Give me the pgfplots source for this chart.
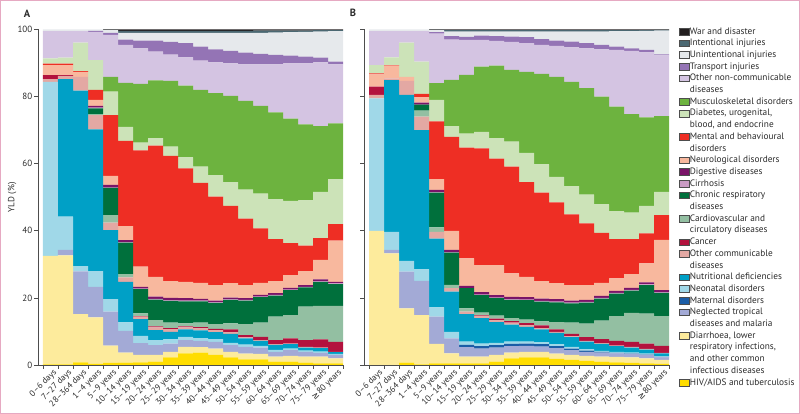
\documentclass[border=0pt]{standalone}
\usepackage{pgfplots}
\pgfplotsset{compat=1.18}
\usepackage{pgfplotstable}
\usepackage{fontspec}
\setmainfont{PT Sans}
\newfontfamily\symf{DejaVu Sans}

\definecolor{cWar}{HTML}{231F20}
\definecolor{cInt}{HTML}{4B6872}
\definecolor{cUni}{HTML}{E6E9EC}
\definecolor{cTra}{HTML}{9474B5}
\definecolor{cONC}{HTML}{D4C4E2}
\definecolor{cMSK}{HTML}{6DB33F}
\definecolor{cDib}{HTML}{CCE3B8}
\definecolor{cMen}{HTML}{EE2E24}
\definecolor{cNeu}{HTML}{F8B89E}
\definecolor{cDig}{HTML}{7A1468}
\definecolor{cCir}{HTML}{C99BC3}
\definecolor{cCR}{HTML}{00703C}
\definecolor{cCar}{HTML}{93BFA2}
\definecolor{cCan}{HTML}{B3123E}
\definecolor{cOC}{HTML}{E3A8A3}
\definecolor{cNut}{HTML}{00A0C6}
\definecolor{cNeo}{HTML}{A0D8E8}
\definecolor{cMat}{HTML}{1B5DA6}
\definecolor{cNTD}{HTML}{A3AAD6}
\definecolor{cDia}{HTML}{FDEB9C}
\definecolor{cHIV}{HTML}{FFDD00}
\definecolor{axgray}{HTML}{4D4D4D}
\definecolor{txtgray}{HTML}{2B2B2B}
\definecolor{framepink}{HTML}{E6A9C2}

% cumulative tops of each layer (%), panel A
\pgfplotstableread{
x HIV DIA NTD MAT NEO NUT OC CAN CAR CR CIR DIG NEU MEN DIB MSK ONC TRA UNI INT WAR
1 0.2 32.5 32.5 32.5 84.4 84.4 85.2 86.4 86.4 86.4 86.4 86.4 89.4 89.8 91.4 91.4 99.5 99.5 100 100 100
2 0.2 32.7 34.3 34.3 44.2 85.2 86.2 86.4 86.4 86.4 86.4 86.4 89.4 89.8 91.6 91.6 99.5 99.5 100 100 100
3 0.8 15.2 27.9 27.9 29.5 81.8 85.9 85.9 85.9 85.9 85.9 85.9 87.4 87.6 96.1 96.1 99.5 99.5 100 100 100
4 0.3 14.2 23.3 23.3 28.0 70.2 74.5 74.5 74.8 76.5 76.7 77.2 79.0 82.0 90.9 90.9 99.3 99.6 100 100 100
5 0.6 5.8 15.9 15.9 19.6 40.2 42.4 42.4 44.7 52.8 52.9 53.7 56.4 74.5 81.5 85.9 98.4 99.0 99.8 99.9 100
6 0.7 3.7 10.2 10.2 12.7 24.8 26.1 26.1 27.1 36.5 36.6 37.2 41.4 66.8 71.0 84.1 95.4 97.0 99.0 99.6 100
7 0.8 3.0 6.5 6.5 8.7 13.7 14.4 14.6 15.4 22.6 22.8 23.3 29.3 64.0 66.3 83.8 94.4 96.7 99.0 99.6 100
8 1.0 3.0 5.9 5.9 7.4 10.4 11.2 11.5 13.4 19.5 19.7 20.4 26.3 65.4 67.6 84.8 93.4 96.7 99.0 99.6 100
9 2.3 3.9 6.4 6.4 7.6 9.9 10.7 11.0 12.6 19.1 19.3 20.0 25.0 62.3 65.1 84.7 92.5 96.3 99.0 99.6 100
10 3.5 5.4 7.4 7.4 8.4 10.6 11.2 11.5 12.4 19.0 19.2 19.9 24.8 58.6 61.9 83.3 91.7 95.9 99.0 99.6 100
11 3.7 5.3 7.2 7.2 8.0 10.3 10.9 11.3 12.6 19.0 19.2 19.7 24.5 54.3 59.1 82.0 90.7 94.9 99.0 99.6 100
12 3.0 4.9 6.9 6.9 7.7 9.8 10.4 10.8 12.2 18.5 18.7 19.2 23.8 50.2 56.6 81.0 90.2 94.1 99.0 99.6 100
13 2.3 3.9 5.9 5.9 6.6 9.3 9.8 10.6 12.4 19.4 19.6 20.1 24.4 47.4 54.5 80.2 89.9 93.6 99.0 99.6 100
14 1.7 3.4 5.4 5.4 6.1 7.9 8.2 8.9 12.2 19.2 19.4 19.9 23.8 43.6 52.3 78.7 89.6 93.1 99.0 99.6 100
15 1.7 3.3 5.2 5.2 5.7 7.2 7.4 8.4 12.6 20.2 20.4 20.9 24.5 40.7 51.1 77.2 89.6 92.7 99.0 99.7 100
16 1.0 2.5 3.9 3.9 4.5 6.0 6.2 7.4 14.4 20.7 20.9 21.4 25.0 37.5 49.4 75.3 89.6 92.4 99.1 99.7 100
17 1.0 2.7 4.4 4.4 4.9 6.2 6.4 7.9 14.9 22.3 22.5 23.0 26.8 36.3 48.9 73.4 89.9 92.2 99.2 99.7 100
18 0.7 2.5 3.9 3.9 4.3 5.2 5.4 7.4 17.4 23.1 23.3 23.8 28.0 35.6 49.1 71.7 89.9 91.9 99.3 99.7 100
19 0.5 2.5 3.6 3.6 4.0 5.0 5.2 7.6 17.6 24.8 25.0 25.5 31.3 37.8 51.6 71.2 90.2 91.6 99.4 99.8 100
20 0.5 2.0 3.0 3.0 3.3 3.8 3.9 6.9 17.6 24.1 24.3 24.8 37.1 42.0 55.4 72.0 89.6 90.4 99.5 99.8 100
}\tabA

% cumulative tops of each layer (%), panel B
\pgfplotstableread{
x HIV DIA NTD MAT NEO NUT OC CAN CAR CR CIR DIG NEU MEN DIB MSK ONC TRA UNI INT WAR
1 0.0 40.0 40.0 40.0 79.5 79.5 80.5 83.0 83.0 83.0 83.0 83.0 86.6 86.9 89.4 89.4 99.5 99.5 100 100 100
2 0.0 33.3 34.3 34.3 39.7 84.9 85.4 85.4 85.4 85.4 85.4 85.4 89.2 89.4 91.7 91.7 99.5 99.5 100 100 100
3 0.7 16.9 27.8 27.8 31.0 80.5 84.7 84.7 84.7 84.7 84.7 84.7 85.9 85.9 96.1 96.1 99.5 99.5 100 100 100
4 0.2 14.9 25.1 25.1 28.5 70.0 74.0 74.0 75.8 77.6 77.6 78.2 79.8 80.8 90.4 90.4 99.5 99.5 100 100 100
5 0.5 6.3 14.4 14.4 17.2 37.7 39.7 39.7 41.0 51.4 51.5 52.2 55.4 72.6 79.0 84.0 98.8 99.2 99.8 99.9 100
6 0.5 3.5 7.9 7.9 9.9 21.9 22.9 22.9 23.9 33.5 33.6 34.3 40.0 68.0 71.2 85.0 97.0 98.0 99.4 99.8 100
7 0.5 2.5 5.3 6.0 7.0 15.2 15.9 15.9 16.9 22.9 22.9 23.6 31.8 64.8 69.0 86.5 96.9 97.8 99.4 99.8 100
8 0.5 2.5 4.9 5.6 6.4 14.0 14.6 14.8 15.6 20.8 21.0 21.7 29.8 64.6 69.5 88.9 96.9 98.2 99.4 99.8 100
9 1.0 3.0 5.2 5.9 6.6 12.8 13.4 13.8 14.7 19.9 20.1 20.8 29.8 61.5 67.6 89.2 96.6 98.0 99.4 99.8 100
10 2.0 3.7 5.6 6.3 7.0 12.0 12.6 13.1 14.0 19.4 19.6 20.3 27.3 59.1 66.6 88.0 96.3 97.9 99.4 99.8 100
11 2.3 3.9 5.7 6.4 7.0 11.4 11.9 12.5 13.5 19.3 19.5 20.2 26.3 54.5 63.2 87.4 95.9 97.7 99.4 99.8 100
12 2.3 3.9 5.5 6.2 6.8 10.6 11.0 11.8 13.0 18.9 19.1 19.8 25.0 51.4 59.8 86.8 95.4 97.1 99.4 99.8 100
13 1.8 3.4 5.0 5.6 6.2 9.6 9.9 10.6 12.8 18.7 18.9 19.6 24.4 48.5 56.1 85.9 95.1 96.7 99.4 99.8 100
14 1.5 3.0 4.4 4.9 5.4 8.3 8.5 9.3 12.6 18.4 18.6 19.2 23.8 44.9 53.3 84.4 94.7 96.4 99.4 99.8 100
15 1.2 2.7 3.9 4.3 4.7 7.0 7.2 8.3 12.3 18.6 18.8 19.4 23.8 42.2 50.8 82.5 94.4 95.9 99.4 99.8 100
16 1.0 2.5 3.7 3.9 4.2 6.3 6.5 7.7 13.2 19.8 20.0 20.6 24.5 39.4 47.9 80.0 94.1 95.4 99.4 99.8 100
17 0.8 2.4 3.5 3.6 3.9 5.6 5.8 7.2 14.6 21.3 21.5 22.1 25.8 37.5 45.9 77.0 93.9 94.9 99.5 99.8 100
18 0.6 2.3 3.3 3.4 3.7 5.2 5.4 6.9 15.5 22.2 22.4 23.0 27.1 37.5 45.4 74.8 93.6 94.4 99.5 99.8 100
19 0.5 2.0 3.0 3.1 3.4 4.6 4.8 6.4 15.3 23.8 24.0 24.6 30.3 39.2 47.4 73.8 93.2 93.9 99.6 99.8 100
20 0.3 1.5 2.3 2.4 2.6 3.5 3.6 5.7 14.6 21.5 21.7 22.3 37.3 44.7 51.6 74.2 92.3 92.6 99.7 99.9 100
}\tabB

\newcommand\lay[4]{\addplot[fill=#1, draw=none] table[x=x, y expr=\thisrow{#3}-\thisrow{#2}]{#4};}
\newcommand\layers[1]{%
  \addplot[fill=cHIV, draw=none] table[x=x, y=HIV]{#1};
  \lay{cDia}{HIV}{DIA}{#1}
  \lay{cNTD}{DIA}{NTD}{#1}
  \lay{cMat}{NTD}{MAT}{#1}
  \lay{cNeo}{MAT}{NEO}{#1}
  \lay{cNut}{NEO}{NUT}{#1}
  \lay{cOC}{NUT}{OC}{#1}
  \lay{cCan}{OC}{CAN}{#1}
  \lay{cCar}{CAN}{CAR}{#1}
  \lay{cCR}{CAR}{CR}{#1}
  \lay{cCir}{CR}{CIR}{#1}
  \lay{cDig}{CIR}{DIG}{#1}
  \lay{cNeu}{DIG}{NEU}{#1}
  \lay{cMen}{NEU}{MEN}{#1}
  \lay{cDib}{MEN}{DIB}{#1}
  \lay{cMSK}{DIB}{MSK}{#1}
  \lay{cONC}{MSK}{ONC}{#1}
  \lay{cTra}{ONC}{TRA}{#1}
  \lay{cUni}{TRA}{UNI}{#1}
  \lay{cInt}{UNI}{INT}{#1}
  \lay{cWar}{INT}{WAR}{#1}
}

\pgfplotsset{
  panel/.style={
    scale only axis, width=305pt, height=335.5pt,
    xmin=0.1667, xmax=20.5, ymin=0, ymax=100,
    ybar stacked, bar width=1,
    axis x line*=bottom, axis y line*=left,
    axis line style={axgray, line width=0.8pt, -},
    tick align=outside,
    xtick={1,...,20},
    xticklabels={0--6 days,7--27 days,28--364 days,1--4 years,5--9 years,10--14 years,15--19 years,20--24 years,25--29 years,30--34 years,35--39 years,40--44 years,45--49 years,50--54 years,55--59 years,60--64 years,65--69 years,70--74 years,75--79 years,{{\symf ≥}80 years}},
    major x tick style={draw=none},
    minor xtick={0.5,1.5,...,20.5},
    minor x tick style={axgray, line width=0.6pt},
    minor tick length=4pt,
    major tick length=4pt,
    ytick={0,20,40,60,80,100},
    y tick style={axgray, line width=0.6pt},
    xticklabel style={rotate=45, anchor=north east, inner sep=1pt, xshift=3pt, font=\fontsize{8.7}{9}\selectfont, text=txtgray},
    yticklabel style={font=\fontsize{9}{10}\selectfont, text=txtgray, inner sep=1.5pt},
    /pgf/number format/assume math mode=true,
    clip=false,
  }
}

\begin{document}
\begin{tikzpicture}
\useasboundingbox (0pt,0pt) rectangle (800pt,414pt);
\draw[framepink, line width=1.2pt] (0.6pt,0.6pt) rectangle (799.4pt,413.4pt);
\node[font=\bfseries\fontsize{10.5}{11}\selectfont, text=txtgray] at (27pt,400.5pt) {A};
\node[font=\bfseries\fontsize{10.5}{11}\selectfont, text=txtgray] at (353pt,401pt) {B};

\begin{axis}[panel, at={(38pt,49pt)}, anchor=south west,
  ylabel={YLD (\%)},
  ylabel style={at={(axis description cs:-0.085,0.5)}, anchor=center, font=\fontsize{9}{10}\selectfont, text=txtgray},
]
\layers{\tabA}
\end{axis}

\begin{axis}[panel, at={(364pt,49pt)}, anchor=south west,
  yticklabels={},
  legend image code/.code={\draw[#1, draw=axgray, line width=0.4pt] (0pt,-3.3pt) rectangle (10pt,3.3pt);},
  legend style={at={(1.031,1.012)}, anchor=north west, draw=none, fill=none, inner sep=0pt,
    row sep=0pt, font=\fontsize{9.3}{10}\selectfont, text=txtgray,
    nodes={inner sep=0.8pt, text height=7.6pt, text depth=2.5pt},
    /tikz/every even column/.append style={column sep=0pt}},
  legend cell align=left,
]
\addlegendimage{fill=cWar}\addlegendentry{War and disaster}
\addlegendimage{fill=cInt}\addlegendentry{Intentional injuries}
\addlegendimage{fill=cUni}\addlegendentry{Unintentional injuries}
\addlegendimage{fill=cTra}\addlegendentry{Transport injuries}
\addlegendimage{fill=cONC}\addlegendentry{Other non-communicable}
\addlegendimage{empty legend}\addlegendentry{diseases}
\addlegendimage{fill=cMSK}\addlegendentry{Musculoskeletal disorders}
\addlegendimage{fill=cDib}\addlegendentry{Diabetes, urogenital,}
\addlegendimage{empty legend}\addlegendentry{blood, and endocrine}
\addlegendimage{fill=cMen}\addlegendentry{Mental and behavioural}
\addlegendimage{empty legend}\addlegendentry{disorders}
\addlegendimage{fill=cNeu}\addlegendentry{Neurological disorders}
\addlegendimage{fill=cDig}\addlegendentry{Digestive diseases}
\addlegendimage{fill=cCir}\addlegendentry{Cirrhosis}
\addlegendimage{fill=cCR}\addlegendentry{Chronic respiratory}
\addlegendimage{empty legend}\addlegendentry{diseases}
\addlegendimage{fill=cCar}\addlegendentry{Cardiovascular and}
\addlegendimage{empty legend}\addlegendentry{circulatory diseases}
\addlegendimage{fill=cCan}\addlegendentry{Cancer}
\addlegendimage{fill=cOC}\addlegendentry{Other communicable}
\addlegendimage{empty legend}\addlegendentry{diseases}
\addlegendimage{fill=cNut}\addlegendentry{Nutritional deficiencies}
\addlegendimage{fill=cNeo}\addlegendentry{Neonatal disorders}
\addlegendimage{fill=cMat}\addlegendentry{Maternal disorders}
\addlegendimage{fill=cNTD}\addlegendentry{Neglected tropical}
\addlegendimage{empty legend}\addlegendentry{diseases and malaria}
\addlegendimage{fill=cDia}\addlegendentry{Diarrhoea, lower}
\addlegendimage{empty legend}\addlegendentry{respiratory infections,}
\addlegendimage{empty legend}\addlegendentry{and other common}
\addlegendimage{empty legend}\addlegendentry{infectious diseases}
\addlegendimage{fill=cHIV}\addlegendentry{HIV/AIDS and tuberculosis}
\layers{\tabB}
\end{axis}
\end{tikzpicture}
\end{document}
